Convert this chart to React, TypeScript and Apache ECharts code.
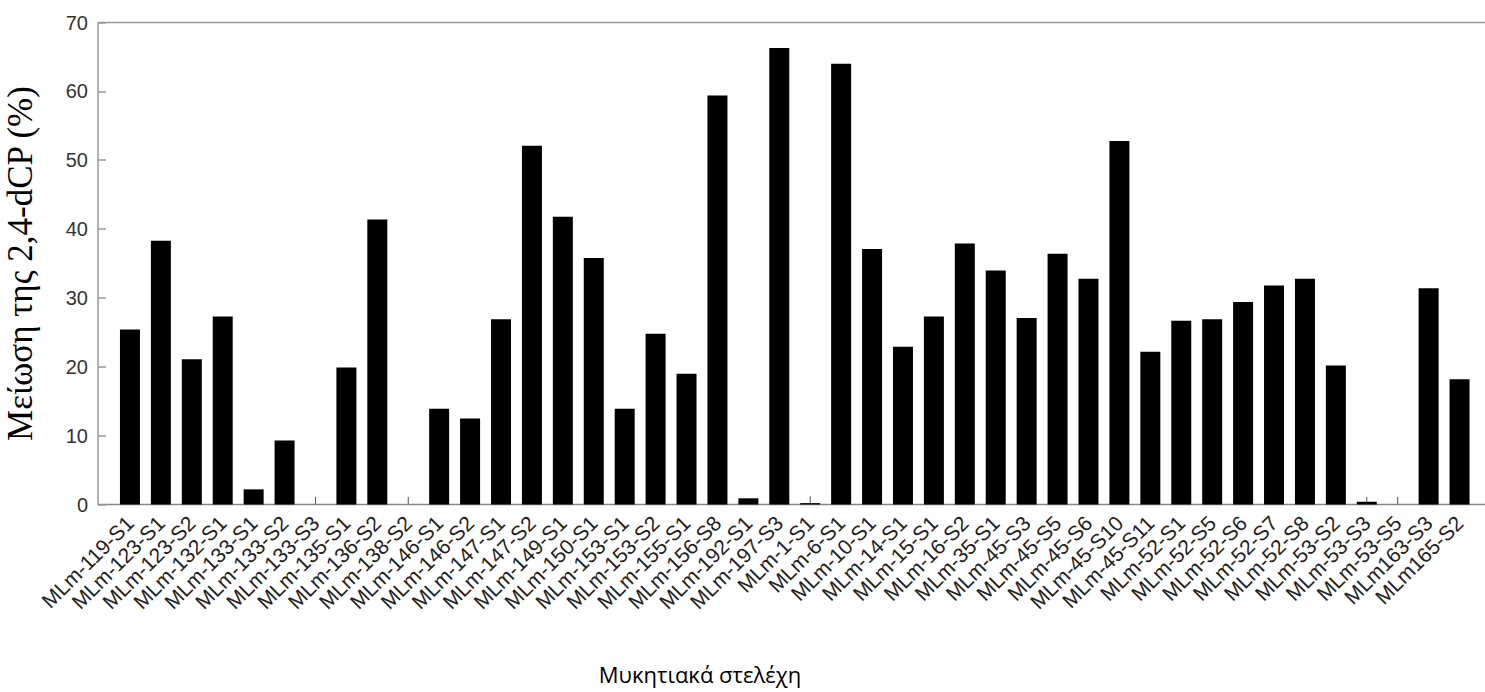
import React, { useEffect, useRef } from "react";
import * as echarts from "echarts";

const categories = [
  "MLm-119-S1", "MLm-123-S1", "MLm-123-S2", "MLm-132-S1", "MLm-133-S1", "MLm-133-S2",
  "MLm-133-S3", "MLm-135-S1", "MLm-136-S2", "MLm-138-S2", "MLm-146-S1", "MLm-146-S2",
  "MLm-147-S1", "MLm-147-S2", "MLm-149-S1", "MLm-150-S1", "MLm-153-S1", "MLm-153-S2",
  "MLm-155-S1", "MLm-156-S8", "MLm-192-S1", "MLm-197-S3", "MLm-1-S1", "MLm-6-S1",
  "MLm-10-S1", "MLm-14-S1", "MLm-15-S1", "MLm-16-S2", "MLm-35-S1", "MLm-45-S3",
  "MLm-45-S5", "MLm-45-S6", "MLm-45-S10", "MLm-45-S11", "MLm-52-S1", "MLm-52-S5",
  "MLm-52-S6", "MLm-52-S7", "MLm-52-S8", "MLm-53-S2", "MLm-53-S3", "MLm-53-S5",
  "MLm163-S3", "MLm165-S2",
];

const reduction = [
  25.4, 38.3, 21.1, 27.3, 2.2, 9.3,
  0, 19.9, 41.4, 0, 13.9, 12.5,
  26.9, 52.1, 41.8, 35.8, 13.9, 24.8,
  19.0, 59.4, 0.9, 66.3, 0.2, 64.0,
  37.1, 22.9, 27.3, 37.9, 34.0, 27.1,
  36.4, 32.8, 52.8, 22.2, 26.7, 26.9,
  29.4, 31.8, 32.8, 20.2, 0.4, 0,
  31.4, 18.2,
];

// visible error whiskers (only those readable above near-zero bars)
const errorBars: (number | null)[] = [
  null, null, null, null, null, null,
  1.1, null, null, 1.1, null, null,
  null, null, null, null, null, null,
  null, null, null, null, 1.0, null,
  null, null, null, null, null, null,
  null, null, null, null, null, null,
  null, null, null, null, 0.7, 1.1,
  null, null,
];

const yTicks = { min: 0, max: 70, interval: 10 };
const yTitle = "Μείωση της 2,4-dCP (%)";
const xTitle = "Μυκητιακά στελέχη";

export default function App() {
  const ref = useRef<HTMLDivElement>(null);

  useEffect(() => {
    if (!ref.current) return;
    const chart = echarts.init(ref.current, undefined, { renderer: "svg" });

    const errData = errorBars
      .map((e, i) => (e == null ? null : [i, reduction[i], e]))
      .filter((d) => d !== null);

    chart.setOption({
      animation: false,
      backgroundColor: "#ffffff",
      grid: {
        left: 114.5,
        right: 10,
        top: 22.5,
        bottom: 187.5,
        containLabel: false,
        outerBoundsMode: "none",
      },
      xAxis: {
        type: "category",
        data: categories,
        boundaryGap: true,
        axisLine: { show: false },
        axisTick: { show: false },
        splitLine: { show: false },
        axisLabel: {
          interval: 0,
          rotate: 45,
          fontSize: 21,
          fontFamily: "Liberation Sans",
          color: "#222",
          margin: 15,
        },
      },
      yAxis: {
        type: "value",
        min: yTicks.min,
        max: yTicks.max,
        interval: yTicks.interval,
        offset: 16.5,
        splitLine: { show: false },
        axisLine: { show: true, lineStyle: { color: "#999", width: 1.5 } },
        axisTick: { show: true, inside: true, length: 8, lineStyle: { color: "#999", width: 1.5 } },
        axisLabel: { fontSize: 20, fontFamily: "Liberation Sans", color: "#333", margin: 10 },
        name: yTitle,
        nameLocation: "middle",
        nameGap: 60,
        nameTextStyle: { fontFamily: "Liberation Serif", fontSize: 35, color: "#000" },
      },
      series: [
        {
          type: "bar",
          data: reduction,
          barWidth: 20,
          itemStyle: { color: "#000" },
          silent: true,
        },
        {
          type: "custom",
          data: errData,
          encode: { x: 0, y: 1 },
          silent: true,
          renderItem: (params: any, api: any) => {
            const i = api.value(0);
            const v = api.value(1);
            const e = api.value(2);
            const p0 = api.coord([i, v]);
            const p1 = api.coord([i, v + e]);
            return {
              type: "line",
              shape: { x1: p0[0], y1: p0[1], x2: p1[0], y2: p1[1] },
              style: { stroke: "#555", lineWidth: 1 },
            };
          },
        },
      ],
      graphic: [
        {
          type: "line",
          shape: { x1: 98, y1: 22.5, x2: 1485, y2: 22.5 },
          style: { stroke: "#999", lineWidth: 1.5 },
          silent: true,
        },
        {
          type: "line",
          shape: { x1: 98, y1: 504.5, x2: 1485, y2: 504.5 },
          style: { stroke: "#888", lineWidth: 1.5 },
          silent: true,
        },
        {
          type: "text",
          x: 700,
          y: 674,
          style: {
            text: xTitle,
            fontFamily: "Open Sans",
            fontSize: 22,
            fill: "#000",
            align: "center",
            verticalAlign: "middle",
          },
        },
      ],
    });

    return () => chart.dispose();
  }, []);

  return (
    <div
      ref={ref}
      style={{ position: "absolute", left: 0, top: 0, width: 1485, height: 692 }}
    />
  );
}
